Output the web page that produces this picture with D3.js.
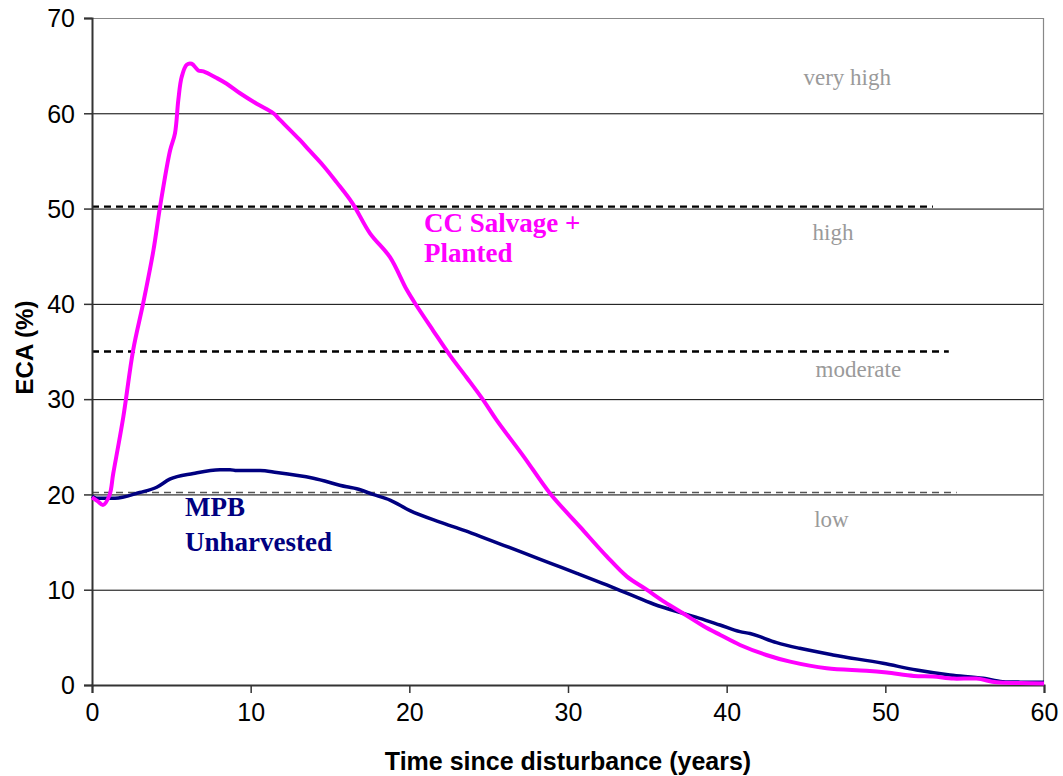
<!DOCTYPE html>
<html>
<head>
<meta charset="utf-8">
<script src="https://cdn.jsdelivr.net/npm/d3@7"></script>
<style>
  body { margin: 0; background: #fff; }
  svg { display: block; }
</style>
</head>
<body>
<div id="container"></div>
<script>
const W = 1063, H = 776;
const margin = { left: 92, top: 18, right: 19, bottom: 91 };

// ECA curves (years, %)
const ccYears = [0, 0.35, 0.7, 1.1, 1.34, 1.97, 2.6, 3.23, 3.87, 4.29, 4.92, 5.23, 5.44, 5.65, 5.97, 6.28, 6.7, 7.02, 7.86, 8.49, 9.33, 10.38, 11.43, 11.85, 13.1, 13.7, 14.58, 15.4, 16.4, 17.52, 18.78, 19.83, 20.46, 21.5, 22.56, 23.6, 24.66, 25.5, 27.2, 28.87, 30.76, 32.44, 33.7, 34.96, 36.1, 37.27, 38.53, 39.6, 40.84, 42.5, 44, 46.3, 48.8, 50.1, 51.8, 53, 54.3, 55.75, 57, 58.5, 60];
const ccValues = [19.7, 19.3, 18.9, 19.9, 22.2, 28.1, 35.2, 40.1, 45.6, 50.2, 56.1, 57.9, 61.4, 63.8, 65.1, 65.2, 64.5, 64.4, 63.7, 63.1, 62.1, 61.0, 60.0, 59.3, 57.2, 56.1, 54.5, 52.8, 50.6, 47.4, 44.9, 41.5, 39.8, 37.2, 34.6, 32.3, 29.9, 27.8, 24.0, 20.1, 16.6, 13.5, 11.4, 10.0, 8.7, 7.5, 6.2, 5.25, 4.2, 3.15, 2.45, 1.75, 1.5, 1.3, 0.95, 0.88, 0.67, 0.67, 0.28, 0.2, 0.17];

const mpbYears = [0, 0.3, 1.45, 3.0, 4.08, 4.9, 6.39, 8.07, 8.7, 9.12, 10.59, 11.64, 13.95, 16.05, 16.68, 17.7, 18.78, 20.04, 21.93, 23.5, 25.08, 27, 28.87, 30.6, 32.44, 33.9, 35.38, 37.27, 38.3, 39.58, 40.84, 41.47, 43.15, 44.6, 46.7, 49.85, 51.97, 54.07, 56.17, 57.4, 58.5, 60];
const mpbValues = [19.8, 19.6, 19.6, 20.2, 20.75, 21.6, 22.2, 22.6, 22.6, 22.5, 22.5, 22.3, 21.7, 20.8, 20.6, 20.0, 19.4, 18.3, 17.1, 16.2, 15.2, 14.0, 12.8, 11.7, 10.5, 9.5, 8.5, 7.5, 7.0, 6.3, 5.6, 5.4, 4.45, 3.85, 3.15, 2.28, 1.57, 1.05, 0.7, 0.35, 0.3, 0.28];

// threshold lines: value and end year
const thresholdValues = [50.2, 35, 20.2];
const thresholdEnds = [53.0, 54.0, 54.5];

const classLabels = ["very high", "high", "moderate", "low"];
const classLabelX = [47.6, 46.7, 48.3, 46.6];
const classLabelY = [63.0, 46.7, 32.3, 16.6];

const xTicks = [0, 10, 20, 30, 40, 50, 60];
const yTicks = [0, 10, 20, 30, 40, 50, 60, 70];

const svg = d3.select('#container').append('svg')
    .attr('width', W).attr('height', H);

const iw = W - margin.left - margin.right;
const ih = H - margin.top - margin.bottom;

const x = d3.scaleLinear().domain([0, 60]).range([margin.left, margin.left + iw]);
const y = d3.scaleLinear().domain([0, 70]).range([margin.top + ih, margin.top]);

const sans = '"Liberation Sans", Arial, sans-serif';
const serif = '"Liberation Serif", "Times New Roman", serif';

// gridlines
svg.append('g').selectAll('line')
    .data(yTicks.filter(d => d > 0))
    .join('line')
    .attr('x1', x(0)).attr('x2', x(60))
    .attr('y1', d => y(d) + 0.5).attr('y2', d => y(d) + 0.5)
    .attr('stroke', d => d === 70 ? '#888' : '#000')
    .attr('stroke-width', 1);

// right border
svg.append('line')
    .attr('x1', x(60) - 0.5).attr('x2', x(60) - 0.5)
    .attr('y1', y(70)).attr('y2', y(0))
    .attr('stroke', '#888').attr('stroke-width', 1.2);

// dashed threshold lines
svg.append('g').selectAll('line')
    .data(thresholdValues)
    .join('line')
    .attr('x1', x(0)).attr('x2', (d, i) => x(thresholdEnds[i]))
    .attr('y1', d => y(d)).attr('y2', d => y(d))
    .attr('stroke', (d, i) => i === 2 ? '#555' : '#000')
    .attr('stroke-width', (d, i) => i === 2 ? 1.6 : 2.4)
    .attr('stroke-dasharray', '7 5');

// class labels
svg.append('g').selectAll('text')
    .data(classLabels)
    .join('text')
    .attr('x', (d, i) => x(classLabelX[i]))
    .attr('y', (d, i) => y(classLabelY[i]))
    .attr('text-anchor', 'middle')
    .attr('font-family', serif)
    .attr('font-size', 23)
    .attr('fill', '#9a9a9a')
    .text(d => d);

// axes
const xAxis = svg.append('g')
    .attr('transform', `translate(0,${y(0)})`)
    .call(d3.axisBottom(x).tickValues(xTicks).tickSize(8).tickPadding(10).tickFormat(d3.format('d')));
const yAxis = svg.append('g')
    .attr('transform', `translate(${x(0)},0)`)
    .call(d3.axisLeft(y).tickValues(yTicks).tickSize(8).tickPadding(9).tickFormat(d3.format('d')));

[xAxis, yAxis].forEach(a => {
    a.select('.domain').attr('stroke', '#333').attr('stroke-width', 2);
    a.selectAll('.tick line').attr('stroke', '#333').attr('stroke-width', 1.5);
    a.selectAll('text')
        .attr('font-family', sans)
        .attr('font-size', 25)
        .attr('fill', '#000');
});
yAxis.selectAll('text').attr('dy', '0.35em');

// curves
const line = d3.line()
    .x(d => x(d[0]))
    .y(d => y(d[1]))
    .curve(d3.curveMonotoneX);

svg.append('path')
    .datum(mpbYears.map((t, i) => [t, mpbValues[i]]))
    .attr('d', line)
    .attr('fill', 'none')
    .attr('stroke', '#000080')
    .attr('stroke-width', 3.5)
    .attr('stroke-linejoin', 'round');

svg.append('path')
    .datum(ccYears.map((t, i) => [t, ccValues[i]]))
    .attr('d', d3.line().x(d => x(d[0])).y(d => y(d[1])).curve(d3.curveCatmullRom.alpha(0.5)))
    .attr('fill', 'none')
    .attr('stroke', '#ff00ff')
    .attr('stroke-width', 4)
    .attr('stroke-linejoin', 'round');

// series labels
const ccLabel = svg.append('text')
    .attr('font-family', serif).attr('font-size', 27).attr('font-weight', 'bold')
    .attr('fill', '#ff00ff');
ccLabel.append('tspan').attr('x', 424).attr('y', 232).text('CC Salvage +');
ccLabel.append('tspan').attr('x', 424).attr('y', 262).text('Planted');

const mpbLabel = svg.append('text')
    .attr('font-family', serif).attr('font-size', 27).attr('font-weight', 'bold')
    .attr('fill', '#000080');
mpbLabel.append('tspan').attr('x', 185).attr('y', 516).text('MPB');
mpbLabel.append('tspan').attr('x', 185).attr('y', 551).text('Unharvested');

// axis titles
svg.append('text')
    .attr('x', 568).attr('y', 770)
    .attr('text-anchor', 'middle')
    .attr('font-family', sans)
    .attr('font-size', 25).attr('font-weight', 'bold')
    .text('Time since disturbance (years)');

svg.append('text')
    .attr('transform', `translate(33,${y(35) - 4}) rotate(-90)`)
    .attr('text-anchor', 'middle')
    .attr('font-family', sans)
    .attr('font-size', 24).attr('font-weight', 'bold')
    .text('ECA (%)');
</script>
</body>
</html>
